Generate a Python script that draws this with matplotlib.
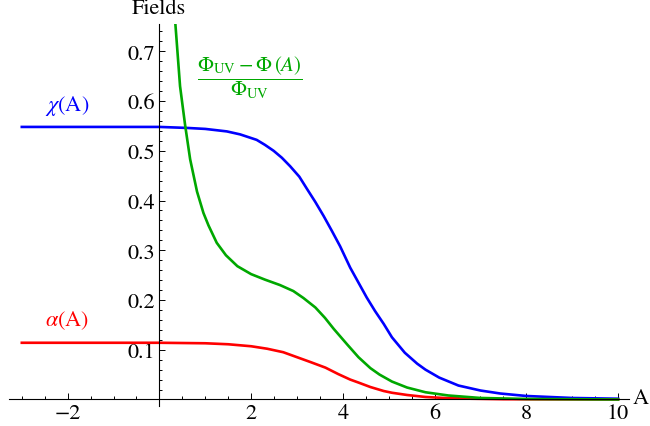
import matplotlib
matplotlib.use("Agg")
import matplotlib.pyplot as plt
from matplotlib.ticker import MultipleLocator, FixedLocator, FixedFormatter

plt.rcParams['font.family'] = ['STIXGeneral', 'Liberation Serif', 'DejaVu Serif']
plt.rcParams['mathtext.fontset'] = 'stix'

# chi(A) - blue
chi_A = [-3, 0, 0.6, 1.0, 1.47, 1.76, 2.12, 2.3, 2.49, 2.67, 2.85, 3.05, 3.22,
         3.4, 3.58, 3.76, 3.94, 4.16, 4.34, 4.52, 4.7, 4.89, 5.07, 5.35, 5.62,
         5.8, 6.1, 6.52, 7.0, 7.43, 8.0, 9.0, 10.0]
chi_v = [0.548, 0.548, 0.546, 0.544, 0.539, 0.533, 0.522, 0.512, 0.500, 0.486,
         0.469, 0.448, 0.423, 0.397, 0.369, 0.339, 0.308, 0.265, 0.235, 0.205,
         0.178, 0.152, 0.125, 0.094, 0.072, 0.060, 0.044, 0.028, 0.018, 0.012,
         0.007, 0.003, 0.0015]

# (Phi_UV - Phi(A))/Phi_UV - green
phi_A = [0.30, 0.34, 0.45, 0.56, 0.67, 0.82, 0.96, 1.07, 1.25, 1.45, 1.7, 2.0,
         2.3, 2.63, 2.92, 3.14, 3.4, 3.61, 3.8, 4.1, 4.34, 4.6, 4.8, 5.07, 5.4,
         5.8, 6.3, 7.0, 8.0, 10.0]
phi_v = [0.79, 0.765, 0.630, 0.552, 0.483, 0.418, 0.375, 0.350, 0.315, 0.290,
         0.268, 0.252, 0.241, 0.230, 0.218, 0.204, 0.185, 0.164, 0.142, 0.110,
         0.085, 0.063, 0.050, 0.036, 0.024, 0.0145, 0.008, 0.003, 0.001, 0.0]

# alpha(A) - red
alpha_A = [-3, 0, 1.0, 1.5, 2.0, 2.35, 2.7, 3.0, 3.3, 3.62, 3.9, 4.16, 4.34, 4.6,
           4.89, 5.07, 5.4, 5.8, 6.2, 6.8, 7.5, 10.0]
alpha_v = [0.114, 0.114, 0.113, 0.111, 0.107, 0.102, 0.095, 0.085, 0.075, 0.064,
           0.051, 0.040, 0.034, 0.025, 0.017, 0.0135, 0.009, 0.005, 0.003, 0.0015,
           0.0005, 0.0]

xticks = [-2, 2, 4, 6, 8, 10]
xticklabels = ['\u22122', '2', '4', '6', '8', '10']
yticks = [0.1, 0.2, 0.3, 0.4, 0.5, 0.6, 0.7]
yticklabels = ['0.1', '0.2', '0.3', '0.4', '0.5', '0.6', '0.7']

fig = plt.figure(figsize=(6.5, 4.27), dpi=100)
ax = fig.add_axes([0.0138, 0.047, 0.954, 0.8945])
ax.set_xlim(-3.28, 10.24)
ax.set_ylim(-0.013, 0.755)

lw = 1.9
ax.plot(chi_A, chi_v, color=(0, 0, 1), lw=lw, solid_joinstyle='round')
ax.plot(alpha_A, alpha_v, color=(1, 0, 0), lw=lw, solid_joinstyle='round')
ax.plot(phi_A, phi_v, color=(0.0, 0.66, 0.0), lw=lw, solid_joinstyle='round')

for s in ['top', 'right']:
    ax.spines[s].set_visible(False)
ax.spines['left'].set_position(('data', 0))
ax.spines['bottom'].set_position(('data', 0))
ax.spines['left'].set_linewidth(0.8)
ax.spines['bottom'].set_linewidth(0.8)

ax.xaxis.set_major_locator(FixedLocator(xticks))
ax.xaxis.set_major_formatter(FixedFormatter(xticklabels))
ax.xaxis.set_minor_locator(MultipleLocator(0.5))
ax.yaxis.set_major_locator(FixedLocator(yticks))
ax.yaxis.set_major_formatter(FixedFormatter(yticklabels))
ax.yaxis.set_minor_locator(MultipleLocator(0.02))
ax.tick_params(which='both', direction='in', labelsize=16, width=0.7)
ax.tick_params(which='major', length=4)
ax.tick_params(which='minor', length=2.2)
ax.tick_params(axis='x', pad=3)
ax.tick_params(axis='y', pad=3)

fig.text(158.5 / 650, 1 - 9 / 427, 'Fields', fontsize=16, ha='center', va='center')
fig.text(633 / 650, 1 - 399 / 427, 'A', fontsize=16, ha='left', va='center')
fig.text(67 / 650, 1 - 106 / 427, r'$\chi$(A)', fontsize=16, color=(0, 0, 1),
         ha='center', va='center')
fig.text(67 / 650, 1 - 321 / 427, r'$\alpha$(A)', fontsize=16, color=(1, 0, 0),
         ha='center', va='center')
fig.text(250 / 650, 1 - 78 / 427,
         r'$\dfrac{\Phi_{\mathrm{UV}}-\Phi\,(A)}{\Phi_{\mathrm{UV}}}$',
         fontsize=15, color=(0.0, 0.66, 0.0), ha='center', va='center')

fig.savefig('out.png', dpi=100)
